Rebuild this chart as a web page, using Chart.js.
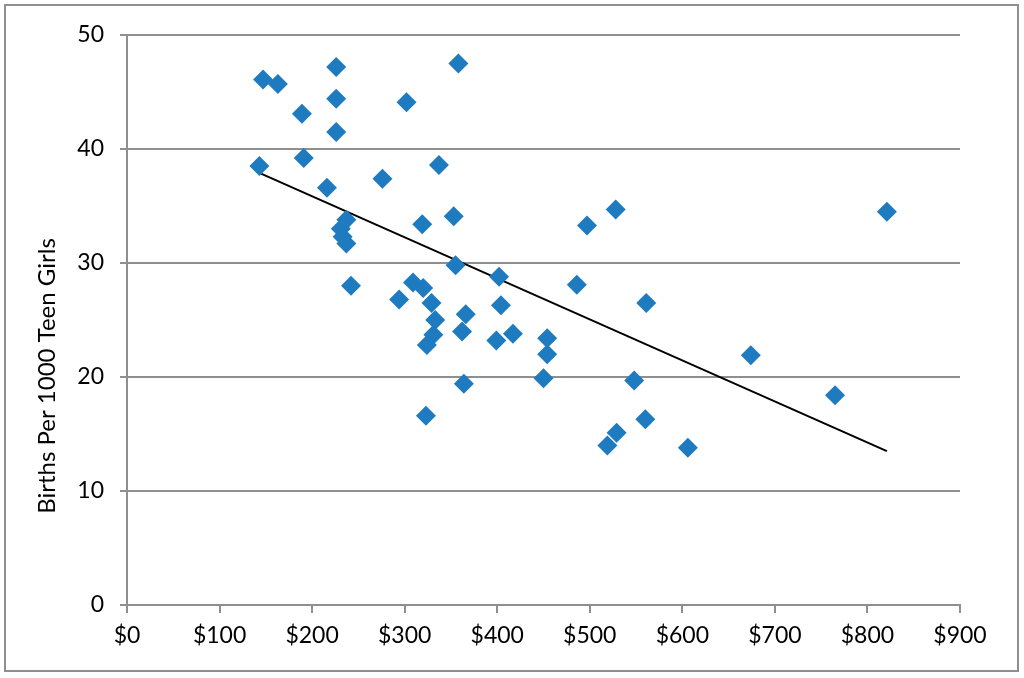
<!DOCTYPE html>
<html>
<head>
<meta charset="utf-8">
<script src="https://cdn.jsdelivr.net/npm/chart.js@4/dist/chart.umd.min.js"></script>
<style>
  html, body { margin: 0; padding: 0; background: #fff; }
  #wrap { position: relative; width: 1024px; height: 678px; }
</style>
</head>
<body>
<div id="wrap"><canvas id="chart" width="1024" height="678"></canvas></div>
<script>
// spending per student ($) and teen birth rate
const spending = [
  143, 147, 163, 226, 226, 189, 302, 226, 191, 337,
  276, 216, 237, 231, 233, 237, 319, 242, 309, 320,
  294, 329, 358, 353, 355, 402, 486, 404, 333, 366,
  362, 331, 324, 399, 417, 454, 454, 364, 450, 323,
  528, 497, 561, 548, 560, 529, 519, 606, 821, 674,
  765
];
const births = [
  38.5, 46.1, 45.7, 47.2, 44.4, 43.1, 44.1, 41.5, 39.2, 38.6,
  37.4, 36.6, 33.8, 33.0, 32.3, 31.7, 33.4, 28.0, 28.3, 27.8,
  26.8, 26.5, 47.5, 34.1, 29.8, 28.8, 28.1, 26.3, 25.0, 25.5,
  24.0, 23.7, 22.8, 23.2, 23.8, 23.4, 22.0, 19.4, 19.9, 16.6,
  34.7, 33.3, 26.5, 19.7, 16.3, 15.1, 14.0, 13.8, 34.5, 21.9,
  18.4
];

// trend line ends
const trendX = [143, 821];
const trendY = [37.9, 13.5];

const yTitle = "Births Per 1000 Teen Girls";
const FONT = "Lato, 'Liberation Sans', sans-serif";
const GRID = "#8f8f8f";

const points = spending.map((x, i) => ({ x, y: births[i] }));
const trend = trendX.map((x, i) => ({ x, y: trendY[i] }));

// frame around the whole picture + rotated y title
const frame = {
  id: "frame",
  afterDraw(chart) {
    const ctx = chart.ctx;
    ctx.save();
    ctx.strokeStyle = GRID;
    ctx.lineWidth = 2;
    ctx.strokeRect(5, 5, 1013, 666);
    ctx.translate(47, 376);
    ctx.rotate(-Math.PI / 2);
    ctx.fillStyle = "#000";
    ctx.font = "24px " + FONT;
    ctx.textAlign = "center";
    ctx.textBaseline = "middle";
    ctx.fillText(yTitle, 0, 0);
    ctx.restore();
  },
};

new Chart(document.getElementById("chart").getContext("2d"), {
  type: "scatter",
  data: {
    datasets: [
      {
        label: "States",
        data: points,
        pointStyle: "rectRot",
        pointRadius: 10,
        pointHoverRadius: 10,
        backgroundColor: "#1f7bbf",
        borderColor: "#1f7bbf",
        borderWidth: 0,
      },
      {
        type: "line",
        label: "Trend",
        data: trend,
        borderColor: "#000",
        borderWidth: 2,
        pointRadius: 0,
        fill: false,
      },
    ],
  },
  options: {
    responsive: false,
    animation: false,
    events: [],
    layout: { padding: { left: 0, right: 64, top: 35, bottom: 0 } },
    plugins: {
      legend: { display: false },
      tooltip: { enabled: false },
    },
    scales: {
      x: {
        type: "linear",
        min: 0,
        max: 900,
        afterFit: (s) => { s.height = 73; },
        ticks: {
          stepSize: 100,
          padding: 9,
          color: "#000",
          font: { family: FONT, size: 23 },
          callback: (v) => "$" + v,
        },
        grid: {
          drawOnChartArea: false,
          drawTicks: true,
          tickLength: 8,
          color: GRID,
          lineWidth: 2,
        },
        border: { display: true, color: GRID, width: 2 },
      },
      y: {
        min: 0,
        max: 50,
        afterFit: (s) => { s.width = 127; },
        ticks: {
          stepSize: 10,
          padding: 16,
          color: "#000",
          font: { family: FONT, size: 23 },
        },
        grid: {
          color: GRID,
          lineWidth: 2,
          tickLength: 7,
        },
        border: { display: true, color: GRID, width: 2 },
      },
    },
  },
  plugins: [frame],
});
</script>
</body>
</html>
